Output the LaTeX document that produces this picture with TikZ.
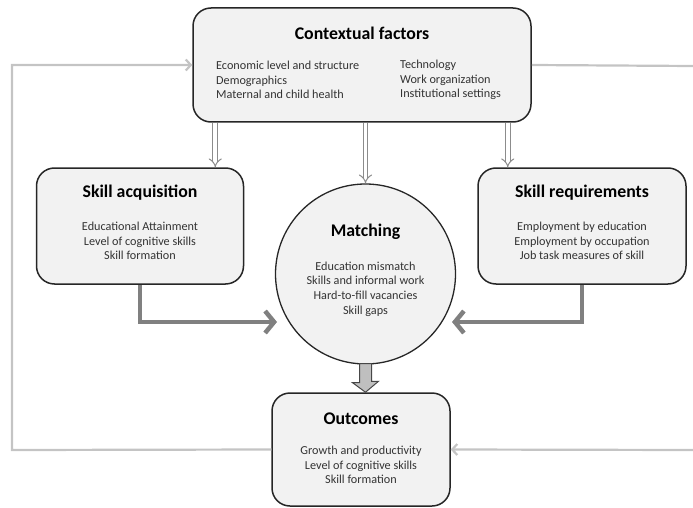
\documentclass[tikz,border=0pt]{standalone}
\usepackage{fontspec}
\setmainfont{Carlito}
\usetikzlibrary{arrows.meta,calc}
\definecolor{boxfill}{HTML}{F2F2F2}
\definecolor{boxline}{HTML}{262626}
\definecolor{loopgray}{HTML}{C4C4C4}
\definecolor{flowgray}{HTML}{808080}
\definecolor{itemtext}{HTML}{333333}
\definecolor{blockfill}{HTML}{BFBFBF}

\begin{document}
\begin{tikzpicture}[x=1pt,y=-1pt,
  panel/.style={draw=boxline, line width=1.5pt, fill=boxfill, rounded corners=18pt,
                inner sep=0pt, rectangle},
  hub/.style={draw=boxline, line width=1.3pt, fill=boxfill, circle, inner sep=0pt,
              minimum size=180pt},
  heading/.style={font=\fontsize{17.8}{20}\selectfont\bfseries, text=black, inner sep=0pt},
  items/.style={font=\fontsize{12.2}{14.7}\selectfont, text=itemtext, align=center, inner sep=0pt},
  itemsleft/.style={items, align=left, anchor=west},
  loopline/.style={draw=loopgray, line width=2.2pt},
  looparrow/.style={loopline, -{Straight Barb[length=5pt,width=11pt]}},
  flowarrow/.style={draw=flowgray, line width=4.5pt, -{Straight Barb[length=9pt,width=22pt]}},
  dropline/.style={draw=gray!90, line width=1pt, double=white, double distance=3.6pt,
                   -{Implies}},
  blockarrow/.style={draw=boxline!85, line width=1pt, fill=blockfill},
]
\useasboundingbox (0,0) rectangle (693,508);

% ---- main boxes ----
\node[panel, minimum width=338pt, minimum height=114pt] (ctx) at (362,65) {};
\node[panel, minimum width=207pt, minimum height=116pt] (acq) at (140,226) {};
\node[panel, minimum width=208pt, minimum height=116pt] (req) at (582,226) {};
\node[hub] (match) at (365.5,274) {};
\node[panel, minimum width=178pt, minimum height=113pt] (out) at (361,449.5) {};

% ---- contextual factors text ----
\node[heading] (ctxT) at (362,33) {Contextual factors};
\node[itemsleft] (ctxA) at (216,80) {Economic level and structure\\Demographics\\Maternal and child health};
\node[itemsleft] (ctxB) at (400,80) {Technology\\Work organization\\Institutional settings};

% ---- skill acquisition text ----
\node[heading] (acqT) at (140,193) {Skill acquisition};
\node[items] (acqL) at (140,241) {Educational Attainment\\Level of cognitive skills\\Skill formation};

% ---- skill requirements text ----
\node[heading] (reqT) at (582,193) {Skill requirements};
\node[items] (reqL) at (582,241) {Employment by education\\Employment by occupation\\Job task measures of skill};

% ---- matching text ----
\node[heading] (matchT) at (365.5,232) {Matching};
\node[items] (matchL) at (365.5,289) {Education mismatch\\Skills and informal work\\Hard-to-fill vacancies\\Skill gaps};

% ---- outcomes text ----
\node[heading] (outT) at (361,419) {Outcomes};
\node[items] (outL) at (361,465) {Growth and productivity\\Level of cognitive skills\\Skill formation};

% ---- drops from contextual factors ----
\coordinate (dropA) at ([xshift=23pt]ctx.south west);
\coordinate (dropC) at ([xshift=-24pt]ctx.south east);
\draw[dropline] (dropA) -- (dropA |- acq.north);
\draw[dropline] (ctx.south -| match.north) -- (match.north);
\draw[dropline] (dropC) -- (dropC |- req.north);

% ---- flows into matching ----
\coordinate (acqIn) at (277,322);
\coordinate (reqIn) at (452,322);
\draw[flowarrow] (acq.south) |- (acqIn);
\draw[flowarrow] (req.south) |- (reqIn);

% ---- block arrow from matching to outcomes ----
\coordinate (tipB) at (match.south |- out.north);
\filldraw[blockarrow] ($(match.south)+(-6,-1)$) -- ++(0,19) -- ++(-7,0) -- (tipB)
  -- ($(tipB)+(13,-11)$) -- ++(-7,0) -- ($(match.south)+(6,-1)$) -- cycle;

% ---- feedback loop ----
\coordinate (loopL) at (12,450);
\coordinate (edgeTop) at (693,66);
\coordinate (edgeBot) at (693,450);
\draw[looparrow] (out.west) -- (loopL) |- (ctx.west);
\draw[loopline] (ctx.east) -- (edgeTop);
\draw[looparrow] (edgeBot) -- (out.east);
\end{tikzpicture}
\end{document}
